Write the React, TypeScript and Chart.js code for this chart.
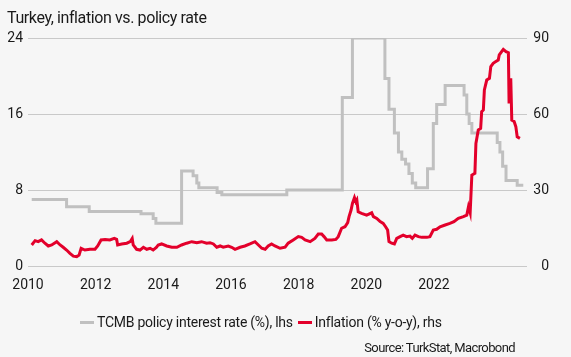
import React, { useEffect, useRef } from "react";
import { Chart, registerables } from "chart.js";

Chart.register(...registerables);

// ---- Data (decimal years as read against the chart's year labels) ----
const xTickYears = [2010, 2012, 2014, 2016, 2018, 2020, 2022];
const leftTicks = [0, 8, 16, 24];
const rightTicks = [0, 30, 60, 90];

const policyLabel = "TCMB policy interest rate (%), lhs";
const inflationLabel = "Inflation (% y-o-y), rhs";

const policyDates = [
  2010.11, 2011.14, 2011.81, 2013.34, 2013.70, 2013.78, 2014.54, 2014.88, 2014.99,
  2015.05, 2015.59, 2015.73, 2017.65, 2019.29, 2019.59, 2020.55, 2020.67, 2020.83,
  2020.95, 2021.05, 2021.16, 2021.26, 2021.36, 2021.46, 2021.81, 2021.98, 2022.08,
  2022.33, 2022.89, 2022.97, 2023.04, 2023.12, 2023.87, 2023.95, 2024.03, 2024.13,
  2024.46, 2024.64,
];
const policyRates = [
  7.0, 6.25, 5.75, 5.5, 5.0, 4.5, 10.0, 9.5, 8.75,
  8.25, 7.75, 7.5, 8.0, 17.75, 24.0, 19.75, 16.5, 14.0,
  12.0, 11.25, 10.75, 9.75, 8.75, 8.25, 10.25, 15.0, 17.0,
  19.0, 18.0, 16.0, 15.0, 14.0, 13.0, 12.0, 10.5, 9.0,
  8.5, 8.5,
];

const inflationDates = [
  2010.11, 2010.21, 2010.30, 2010.40, 2010.50, 2010.60, 2010.70, 2010.85, 2010.95,
  2011.04, 2011.14, 2011.24, 2011.34, 2011.44, 2011.51, 2011.57, 2011.68, 2011.83,
  2011.98, 2012.06, 2012.16, 2012.28, 2012.42, 2012.55, 2012.62, 2012.65, 2012.77,
  2012.92, 2013.02, 2013.08, 2013.11, 2013.21, 2013.31, 2013.41, 2013.51, 2013.61,
  2013.70, 2013.80, 2013.85, 2013.95, 2014.10, 2014.25, 2014.40, 2014.54, 2014.69,
  2014.84, 2014.99, 2015.13, 2015.28, 2015.38, 2015.48, 2015.58, 2015.68, 2015.77,
  2015.92, 2016.02, 2016.12, 2016.27, 2016.41, 2016.56, 2016.71, 2016.81, 2016.91,
  2017.01, 2017.10, 2017.20, 2017.30, 2017.45, 2017.60, 2017.69, 2017.84, 2017.99,
  2018.09, 2018.19, 2018.34, 2018.48, 2018.58, 2018.68, 2018.75, 2018.83, 2018.98,
  2019.10, 2019.17, 2019.27, 2019.37, 2019.45, 2019.49, 2019.55, 2019.59, 2019.65,
  2019.69, 2019.72, 2019.76, 2019.86, 2020.01, 2020.16, 2020.21, 2020.31, 2020.41,
  2020.50, 2020.57, 2020.63, 2020.67, 2020.75, 2020.83, 2020.90, 2021.00, 2021.09,
  2021.19, 2021.29, 2021.36, 2021.44, 2021.54, 2021.64, 2021.79, 2021.88, 2021.98,
  2022.08, 2022.18, 2022.33, 2022.47, 2022.59, 2022.72, 2022.87, 2022.97, 2023.02,
  2023.07, 2023.12, 2023.21, 2023.24, 2023.31, 2023.38, 2023.41, 2023.46, 2023.49,
  2023.56, 2023.64, 2023.68, 2023.75, 2023.83, 2023.90, 2023.93, 2024.00, 2024.05,
  2024.13, 2024.20, 2024.22, 2024.27, 2024.30, 2024.37, 2024.42, 2024.46, 2024.54,
];
const inflationValues = [
  8.3, 10.0, 9.6, 10.3, 9.0, 7.9, 8.3, 9.6, 8.3,
  7.4, 6.3, 5.0, 3.9, 3.7, 4.3, 7.0, 6.3, 6.6,
  6.6, 7.9, 10.3, 10.5, 10.3, 10.9, 10.5, 8.3, 8.7,
  9.0, 9.6, 10.9, 8.3, 6.6, 6.3, 7.4, 6.6, 7.0,
  6.3, 7.4, 8.3, 8.7, 7.9, 7.4, 7.4, 8.3, 9.0,
  9.6, 9.2, 9.6, 9.0, 9.2, 8.7, 7.4, 7.9, 7.4,
  7.9, 7.4, 6.6, 7.4, 7.9, 8.7, 9.6, 8.3, 7.0,
  6.6, 7.9, 8.7, 7.9, 7.0, 7.4, 9.0, 10.3, 11.6,
  11.3, 10.3, 9.6, 10.9, 12.6, 12.6, 11.6, 10.3, 10.3,
  10.5, 11.6, 14.9, 15.5, 17.1, 19.5, 22.1, 24.7, 27.0,
  25.4, 26.1, 21.4, 20.8, 20.1, 21.0, 19.5, 18.8, 17.5,
  16.8, 15.5, 14.2, 9.6, 9.0, 8.7, 10.9, 11.6, 12.2,
  11.6, 11.8, 10.9, 12.2, 11.6, 11.3, 11.3, 11.6, 14.2,
  14.5, 15.5, 16.2, 16.8, 17.5, 18.8, 19.5, 20.1, 23.4,
  21.0, 35.9, 36.6, 48.4, 53.7, 54.3, 60.9, 61.6, 69.5,
  73.4, 74.1, 78.7, 80.0, 80.7, 81.3, 83.3, 84.6, 85.5,
  84.6, 84.2, 64.2, 74.1, 57.6, 57.0, 55.0, 51.0, 50.4,
];

const GRAY = "#c0c0c0";
const RED = "#e3002b";
const GRID = "#c9c9c9";
const TEXT = "#1a1a1a";
const BG = "#f6f6f6";
const FONT = "Roboto";

export default function App() {
  const ref = useRef<HTMLCanvasElement | null>(null);

  useEffect(() => {
    if (!ref.current) return;
    const tickFont = { family: FONT, size: 14 };
    const chart = new Chart(ref.current, {
      type: "line",
      data: {
        datasets: [
          {
            label: inflationLabel,
            data: inflationDates.map((d, i) => ({ x: d, y: inflationValues[i] })),
            yAxisID: "yR",
            borderColor: RED,
            borderWidth: 3,
            pointRadius: 0,
            tension: 0,
            borderJoinStyle: "miter",
          },
          {
            label: policyLabel,
            data: policyDates.map((d, i) => ({ x: d, y: policyRates[i] })),
            yAxisID: "yL",
            borderColor: GRAY,
            borderWidth: 3,
            pointRadius: 0,
            stepped: "before",
            borderJoinStyle: "miter",
          },
        ],
      },
      options: {
        animation: false,
        responsive: false,
        maintainAspectRatio: false,
        layout: { padding: { top: 38, right: 22, left: 0, bottom: 0 } },
        plugins: {
          legend: { display: false },
          tooltip: { enabled: false },
          title: { display: false },
        },
        scales: {
          x: {
            type: "linear",
            min: 2010,
            max: 2024.75,
            grid: { display: false },
            border: { display: false },
            afterBuildTicks: (s: any) => {
              s.ticks = xTickYears.map((v) => ({ value: v }));
            },
            afterFit: (s: any) => {
              s.height = 91;
            },
            ticks: {
              autoSkip: false,
              maxRotation: 0,
              padding: 3,
              font: tickFont,
              color: TEXT,
              callback: (v: any) => String(v),
            },
          },
          yL: {
            type: "linear",
            position: "left",
            min: 0,
            max: 24,
            afterBuildTicks: (s: any) => {
              s.ticks = leftTicks.map((v) => ({ value: v }));
            },
            afterFit: (s: any) => {
              s.width = 28;
            },
            grid: { color: GRID, lineWidth: 1, drawTicks: false },
            border: { display: false },
            ticks: { padding: 5, font: tickFont, color: TEXT },
          },
          yR: {
            type: "linear",
            position: "right",
            min: 0,
            max: 90,
            afterBuildTicks: (s: any) => {
              s.ticks = rightTicks.map((v) => ({ value: v }));
            },
            afterFit: (s: any) => {
              s.width = 22;
            },
            grid: { display: false },
            border: { display: false },
            ticks: { padding: 5, font: tickFont, color: TEXT, crossAlign: "far" },
          },
        },
      },
    } as any);
    return () => chart.destroy();
  }, []);

  return (
    <div
      style={{
        position: "absolute",
        left: 0,
        top: 0,
        width: 571,
        height: 357,
        background: BG,
        overflow: "hidden",
        fontFamily: FONT,
        color: TEXT,
      }}
    >
      <canvas
        ref={ref}
        width={571}
        height={357}
        style={{ position: "absolute", left: 0, top: 0, display: "block" }}
      />
      <div
        style={{
          position: "absolute",
          left: 7,
          top: 10,
          fontSize: 16,
          lineHeight: "16px",
          letterSpacing: "-0.4px",
          whiteSpace: "nowrap",
        }}
      >
        Turkey, inflation vs. policy rate
      </div>
      <div
        style={{
          position: "absolute",
          left: 80,
          top: 315,
          display: "flex",
          alignItems: "center",
          fontSize: 14,
          lineHeight: "14px",
          letterSpacing: "-0.25px",
          whiteSpace: "nowrap",
        }}
      >
        <span style={{ display: "inline-block", width: 14, height: 3, background: GRAY, marginRight: 3 }} />
        <span>{policyLabel}</span>
        <span
          style={{ display: "inline-block", width: 14, height: 3, background: RED, marginLeft: 5, marginRight: 3 }}
        />
        <span>{inflationLabel}</span>
      </div>
      <div
        style={{
          position: "absolute",
          right: 571 - 515,
          top: 341,
          fontSize: 13,
          lineHeight: "13px",
          letterSpacing: "-0.6px",
          whiteSpace: "nowrap",
        }}
      >
        Source: TurkStat, Macrobond
      </div>
    </div>
  );
}
